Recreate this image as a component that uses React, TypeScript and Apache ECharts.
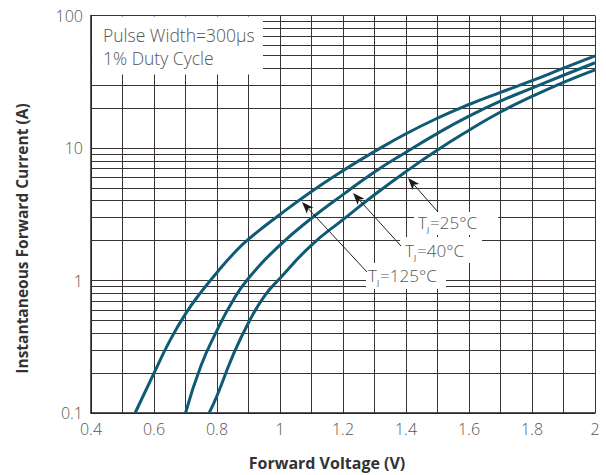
import React, { useEffect, useRef } from 'react';
import * as echarts from 'echarts';

// Forward voltage (V) / instantaneous forward current (A)
const voltage125 = [0.54, 0.6, 0.65, 0.7, 0.75, 0.8, 0.85, 0.9, 1.0, 1.1, 1.2, 1.3, 1.4, 1.5, 1.6, 1.7, 1.8, 1.9, 2.0];
const current125 = [0.1, 0.2, 0.35, 0.56, 0.82, 1.15, 1.57, 2.05, 3.15, 4.7, 6.75, 9.4, 12.8, 16.8, 21.3, 26.3, 32.2, 40, 49.5];

const voltage40 = [0.7, 0.75, 0.8, 0.85, 0.9, 1.0, 1.1, 1.2, 1.3, 1.4, 1.5, 1.6, 1.7, 1.8, 1.9, 2.0];
const current40 = [0.1, 0.23, 0.42, 0.7, 1.04, 1.85, 2.95, 4.45, 6.6, 9.3, 12.9, 17.4, 22.6, 28.3, 35.4, 44];

const voltage25 = [0.775, 0.8, 0.85, 0.9, 0.95, 1.0, 1.1, 1.2, 1.3, 1.4, 1.5, 1.6, 1.7, 1.8, 1.9, 2.0];
const current25 = [0.1, 0.135, 0.27, 0.48, 0.76, 1.04, 1.85, 2.88, 4.44, 6.64, 9.66, 13.6, 18.7, 24.5, 31.3, 38.9];

const yMinorGrid = [0.2, 0.3, 0.4, 0.5, 0.6, 0.7, 0.8, 0.9, 2, 3, 4, 5, 6, 7, 8, 9, 20, 30, 40, 50, 60, 70, 80, 90];

const seriesNames = ['TJ=125°C', 'TJ=40°C', 'TJ=25°C'];
const noteLines = ['Pulse Width=300μs', '1% Duty Cycle'];
const xName = 'Forward Voltage (V)';
const yName = 'Instantaneous Forward Current (A)';

const CURVE = '#0f5b75';
const GRID = '#3a3333';
const TEXT = '#555';
const FONT = '"Open Sans", "Noto Sans", sans-serif';

function zip(xs: number[], ys: number[]) {
  return xs.map((x, i) => [x, ys[i]]);
}

function arrow(x1: number, y1: number, x2: number, y2: number) {
  const dx = x2 - x1;
  const dy = y2 - y1;
  const len = Math.sqrt(dx * dx + dy * dy);
  const ux = dx / len;
  const uy = dy / len;
  const nx = -uy;
  const ny = ux;
  const bx = x2 - ux * 12;
  const by = y2 - uy * 12;
  const nxp = x2 - ux * 9;
  const nyp = y2 - uy * 9;
  return [
    {
      type: 'line',
      z: 20,
      shape: { x1, y1, x2: nxp, y2: nyp },
      style: { stroke: '#222', lineWidth: 1 },
    },
    {
      type: 'polygon',
      z: 20,
      shape: {
        points: [
          [x2, y2],
          [bx + nx * 4.5, by + ny * 4.5],
          [nxp, nyp],
          [bx - nx * 4.5, by - ny * 4.5],
        ],
      },
      style: { fill: '#1a1a1a' },
    },
  ];
}

function tjLabel(text: string, x: number, y: number, box: number[]) {
  const m = text.match(/^TJ(.*)$/);
  const rest = m ? m[1] : text;
  return [
    {
      type: 'rect',
      z: 10,
      shape: { x: box[0], y: box[1], width: box[2], height: box[3] },
      style: { fill: '#fff' },
    },
    {
      type: 'text',
      z: 11,
      x,
      y,
      style: {
        text: '{t|T}{s|J}{t|' + rest + '}',
        fill: TEXT,
        verticalAlign: 'middle',
        align: 'left',
        rich: {
          t: { fontSize: 17, fontFamily: FONT, fontWeight: 300, fill: TEXT, color: TEXT, lineHeight: 20 },
          s: { fontSize: 8, fontFamily: FONT, fill: TEXT, color: TEXT, lineHeight: 20, verticalAlign: 'bottom', padding: [11, 1, 0, 0] },
        },
      },
    },
  ];
}

export default function App() {
  const ref = useRef<HTMLDivElement>(null);

  useEffect(() => {
    if (!ref.current) return;
    const chart = echarts.init(ref.current, null, { renderer: 'svg' });
    const curveSeries = [
      { name: seriesNames[0], data: zip(voltage125, current125) },
      { name: seriesNames[1], data: zip(voltage40, current40) },
      { name: seriesNames[2], data: zip(voltage25, current25) },
    ].map((s) => ({
      type: 'line',
      name: s.name,
      data: s.data,
      showSymbol: false,
      smooth: 0.5,
      z: 5,
      lineStyle: { color: CURVE, width: 3 },
      itemStyle: { color: CURVE },
    }));

    chart.setOption({
      animation: false,
      backgroundColor: '#fff',
      grid: { left: 91, right: 11, top: 15.5, bottom: 62, containLabel: false },
      xAxis: {
        type: 'value',
        min: 0.4,
        max: 2,
        interval: 0.2,
        axisLine: { show: true, lineStyle: { color: '#222', width: 1.5 } },
        axisTick: { show: false },
        axisLabel: {
          color: TEXT,
          fontSize: 16,
          fontFamily: FONT,
          fontWeight: 300,
          margin: 8,
          formatter: (v: number) => String(parseFloat(v.toFixed(1))),
        },
        splitLine: { show: true, lineStyle: { color: GRID, width: 1 } },
        minorTick: { show: false, splitNumber: 2 },
        minorSplitLine: { show: true, lineStyle: { color: GRID, width: 1 } },
      },
      yAxis: {
        type: 'log',
        logBase: 10,
        min: 0.1,
        max: 100,
        axisLine: { show: true, lineStyle: { color: '#222', width: 1.5 } },
        axisTick: { show: false },
        axisLabel: {
          color: TEXT,
          fontSize: 16,
          fontFamily: FONT,
          fontWeight: 300,
          margin: 8,
          formatter: (v: number) => String(v),
        },
        splitLine: { show: true, lineStyle: { color: GRID, width: 1 } },
      },
      series: [
        {
          type: 'line',
          name: 'grid',
          data: [],
          z: 1,
          silent: true,
          markLine: {
            z: 1,
            silent: true,
            symbol: 'none',
            label: { show: false },
            lineStyle: { type: 'solid', color: GRID, width: 1 },
            emphasis: { disabled: true },
            data: yMinorGrid.map((v) => ({ yAxis: v })),
          },
        },
        ...curveSeries,
      ],
      graphic: [
        {
          type: 'rect',
          z: 10,
          shape: { x: 92, y: 16.5, width: 171, height: 58 },
          style: { fill: '#fff' },
        },
        {
          type: 'text',
          z: 11,
          x: 103,
          y: 35,
          style: { text: noteLines[0], fontSize: 17.5, fontFamily: FONT, fontWeight: 300, fill: TEXT, verticalAlign: 'middle' },
        },
        {
          type: 'text',
          z: 11,
          x: 103,
          y: 58,
          style: { text: noteLines[1], fontSize: 17.5, fontFamily: FONT, fontWeight: 300, fill: TEXT, verticalAlign: 'middle' },
        },
        ...tjLabel(seriesNames[2], 418, 222, [414, 212, 84, 23]),
        ...tjLabel(seriesNames[1], 405, 250, [400, 237, 82, 26]),
        ...tjLabel(seriesNames[0], 368, 275, [366, 263, 80, 26]),
        ...arrow(438, 212, 408, 178),
        ...arrow(401, 246, 353, 193),
        ...arrow(367, 272, 302, 202),
        {
          type: 'text',
          z: 11,
          x: 327,
          y: 463,
          style: { text: xName, fontSize: 16, fontFamily: FONT, fontWeight: 'bold', fill: '#333', align: 'center', verticalAlign: 'middle' },
        },
        {
          type: 'text',
          z: 11,
          x: 21.5,
          y: 238.5,
          rotation: Math.PI / 2,
          style: { text: yName, fontSize: 15.5, fontFamily: FONT, fontWeight: 'bold', fill: '#333', align: 'center', verticalAlign: 'middle' },
        },
      ],
    });
    return () => chart.dispose();
  }, []);

  return <div ref={ref} style={{ position: 'fixed', left: 0, top: 0, width: 606, height: 475 }} />;
}
